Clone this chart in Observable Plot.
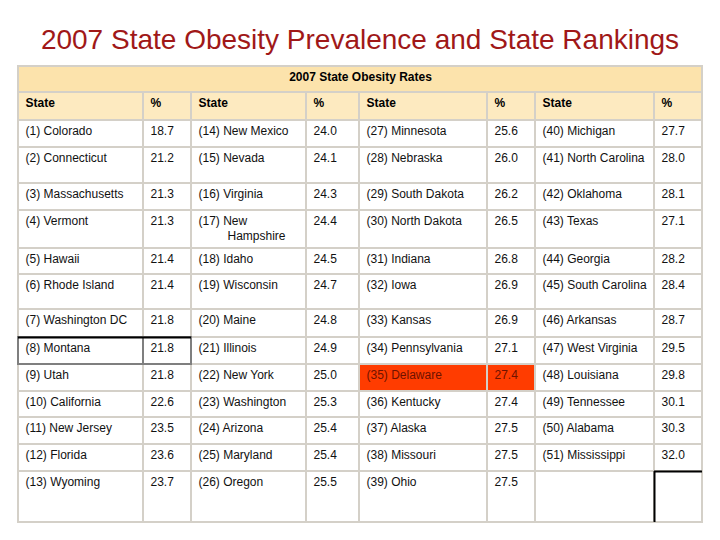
<!DOCTYPE html>
<html><head><meta charset="utf-8">
<script src="https://cdn.jsdelivr.net/npm/d3@7"></script>
<script src="https://cdn.jsdelivr.net/npm/@observablehq/plot@0.6"></script>
<style>
body{margin:0;background:#fff;}
#title{height:62px;box-sizing:border-box;padding-top:24px;line-height:32px;text-align:center;font:28px "Liberation Sans", Arial, sans-serif;color:#A01818;white-space:nowrap;overflow:visible}
#chart svg{display:block}
</style></head><body>
<div id="title">2007 State Obesity Prevalence and State Rankings</div>
<div id="chart"></div>
<script>
// ---- data ----
const tableTitle = "2007 State Obesity Rates";
const headers = ["State", "%", "State", "%", "State", "%", "State", "%"];
const states = [
  "Colorado", "Connecticut", "Massachusetts", "Vermont", "Hawaii", "Rhode Island", "Washington DC",
  "Montana", "Utah", "California", "New Jersey", "Florida", "Wyoming",
  "New Mexico", "Nevada", "Virginia", "New Hampshire", "Idaho", "Wisconsin", "Maine",
  "Illinois", "New York", "Washington", "Arizona", "Maryland", "Oregon",
  "Minnesota", "Nebraska", "South Dakota", "North Dakota", "Indiana", "Iowa", "Kansas",
  "Pennsylvania", "Delaware", "Kentucky", "Alaska", "Missouri", "Ohio",
  "Michigan", "North Carolina", "Oklahoma", "Texas", "Georgia", "South Carolina", "Arkansas",
  "West Virginia", "Louisiana", "Tennessee", "Alabama", "Mississippi"
];
const rates = [
  18.7, 21.2, 21.3, 21.3, 21.4, 21.4, 21.8, 21.8, 21.8, 22.6, 23.5, 23.6, 23.7,
  24.0, 24.1, 24.3, 24.4, 24.5, 24.7, 24.8, 24.9, 25.0, 25.3, 25.4, 25.4, 25.5,
  25.6, 26.0, 26.2, 26.5, 26.8, 26.9, 26.9, 27.1, 27.4, 27.4, 27.5, 27.5, 27.5,
  27.7, 28.0, 28.1, 27.1, 28.2, 28.4, 28.7, 29.5, 29.8, 30.1, 30.3, 32.0
];
const highlighted = ["Delaware"];
const outlined = ["Montana"];
const wrapped = {"New Hampshire": ["New", "Hampshire"]};

// ---- layout ----
const colW = [125, 48, 115, 53, 128, 48, 119, 48];
const bandH = 26, headH = 28;
const rowH = [27, 36, 27, 38, 26, 35, 28, 27, 27, 26, 27, 27, 51];
const nRows = rowH.length;
const colX = Array.from(d3.cumsum([0, ...colW]));
const rowTop = Array.from(d3.cumsum([bandH + headH, ...rowH]));
const totalW = colX[colX.length - 1], totalH = rowTop[rowTop.length - 1];
const grid = "#D4D0C8";
const font = "'Liberation Sans', Arial, sans-serif";

const band = [{x1: 0, x2: totalW, y1: 0, y2: bandH, text: tableTitle}];
const headCells = headers.map((h, c) => ({x1: colX[c], x2: colX[c + 1], y1: bandH, y2: bandH + headH, text: h}));
const cells = [];
for (let r = 0; r < nRows; r++) {
  for (let c = 0; c < colW.length; c++) {
    const idx = (c >> 1) * nRows + r;
    const has = idx < states.length;
    const name = has ? states[idx] : null;
    let lines = [""];
    if (has) {
      if (c % 2 === 0) {
        const w = wrapped[name];
        lines = w ? [`(${idx + 1}) ${w[0]}`, ...w.slice(1)] : [`(${idx + 1}) ${name}`];
      } else lines = [rates[idx].toFixed(1)];
    }
    cells.push({
      x1: colX[c], x2: colX[c + 1], y1: rowTop[r], y2: rowTop[r + 1],
      text: lines[0], more: lines.slice(1), name, has,
      hi: has && highlighted.includes(name), out: has && outlined.includes(name)
    });
  }
}
const contLines = cells.flatMap(d => d.more.map((t, i) => ({...d, text: t, k: i + 1})));
const emptyCells = cells.filter(d => !d.has);
const lastEmpty = emptyCells.length ? [emptyCells[emptyCells.length - 1]] : [];
const outCells = cells.filter(d => d.out);

const plot = Plot.plot({
  width: 720, height: 478,
  marginLeft: 18, marginRight: 720 - 18 - totalW, marginTop: 4, marginBottom: 478 - 4 - totalH,
  x: {domain: [0, totalW], axis: null},
  y: {domain: [0, totalH], reverse: true, axis: null},
  marks: [
    Plot.rect(band, {x1: "x1", x2: "x2", y1: "y1", y2: "y2", fill: "#FCE3AC", stroke: grid, strokeWidth: 2}),
    Plot.rect(headCells, {x1: "x1", x2: "x2", y1: "y1", y2: "y2", fill: "#FDEAC0", stroke: grid, strokeWidth: 2}),
    Plot.rect(cells, {x1: "x1", x2: "x2", y1: "y1", y2: "y2", fill: d => d.hi ? "#FF3C00" : "#FFFFFF", stroke: grid, strokeWidth: 2}),
    Plot.rect(outCells, {x1: "x1", x2: "x2", y1: "y1", y2: "y2", fill: "none", stroke: "#7F7F7F", strokeWidth: 2}),
    Plot.ruleY(outCells, {x1: "x1", x2: "x2", y: "y1", stroke: "#000", strokeWidth: 2}),
    Plot.ruleY(lastEmpty, {x1: "x1", x2: "x2", y: "y1", stroke: "#000", strokeWidth: 2}),
    Plot.ruleX(lastEmpty, {x: "x1", y1: "y1", y2: "y2", stroke: "#000", strokeWidth: 2}),
    Plot.text(band, {x: d => (d.x1 + d.x2) / 2, y: "y1", dy: 10.5, text: "text", fontSize: 12, fontWeight: "bold", fontFamily: font, fill: "#000", lineAnchor: "middle"}),
    Plot.text(headCells, {x: "x1", y: "y1", dx: 7, dy: 11, text: "text", textAnchor: "start", lineAnchor: "middle", fontSize: 12, fontWeight: "bold", fontFamily: font, fill: "#000"}),
    Plot.text(cells, {x: "x1", y: "y1", dx: 7, dy: 10.5, text: "text", textAnchor: "start", lineAnchor: "middle", fontSize: 12, fontFamily: font, fill: d => d.hi ? "#6E1200" : "#111"}),
    Plot.text(contLines, {x: "x1", y: "y1", dx: 36, dy: 25.5, text: "text", textAnchor: "start", lineAnchor: "middle", fontSize: 12, fontFamily: font, fill: "#111"})
  ]
});
document.getElementById("chart").appendChild(plot);
</script>
</body></html>
